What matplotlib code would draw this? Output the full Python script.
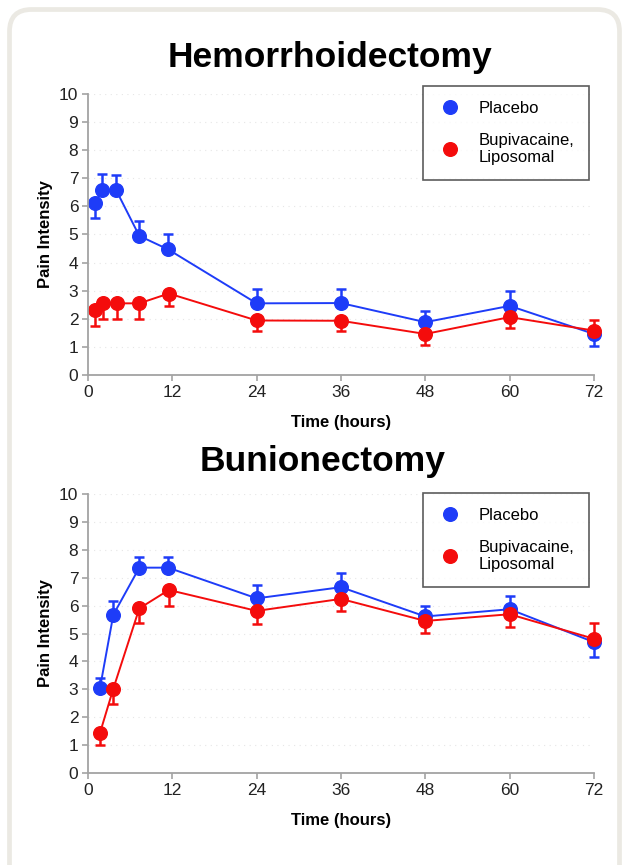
import matplotlib
matplotlib.use("Agg")
import matplotlib.pyplot as plt
from matplotlib.patches import FancyBboxPatch
from matplotlib.lines import Line2D

plt.rcParams['font.family'] = ['Liberation Sans', 'DejaVu Sans']

# --- data ---
hem_time_placebo = [1, 2, 4, 7.3, 11.4, 24, 36, 48, 60, 72]
hem_placebo = [6.11, 6.58, 6.58, 4.95, 4.47, 2.55, 2.56, 1.88, 2.46, 1.46]
hem_placebo_err = [0.51, 0.56, 0.52, 0.54, 0.55, 0.50, 0.51, 0.41, 0.52, 0.44]
hem_placebo_dir = ['lo', 'up', 'up', 'up', 'up', 'up', 'up', 'up', 'up', 'lo']

hem_time_bupi = [1, 2.2, 4.1, 7.3, 11.5, 24, 36, 48, 60, 72]
hem_bupi = [2.31, 2.57, 2.55, 2.55, 2.90, 1.94, 1.93, 1.46, 2.06, 1.58]
hem_bupi_err = [0.57, 0.59, 0.55, 0.55, 0.44, 0.37, 0.38, 0.38, 0.40, 0.36]
hem_bupi_dir = ['lo'] * 9 + ['up']

bun_time_placebo = [1.7, 3.6, 7.3, 11.4, 24, 36, 48, 60, 72]
bun_placebo = [3.04, 5.67, 7.36, 7.36, 6.26, 6.66, 5.61, 5.87, 4.69]
bun_placebo_err = [0.36, 0.48, 0.37, 0.37, 0.48, 0.52, 0.39, 0.49, 0.55]
bun_placebo_dir = ['up'] * 8 + ['lo']

bun_time_bupi = [1.7, 3.6, 7.3, 11.5, 24, 36, 48, 60, 72]
bun_bupi = [1.43, 3.02, 5.90, 6.56, 5.81, 6.24, 5.45, 5.69, 4.81]
bun_bupi_err = [0.44, 0.54, 0.53, 0.56, 0.46, 0.43, 0.44, 0.44, 0.56]
bun_bupi_dir = ['lo'] * 8 + ['up']

x_ticks = [0, 12, 24, 36, 48, 60, 72]
y_ticks = list(range(0, 11))
labels = ['Placebo', 'Bupivacaine,\nLiposomal']

BLUE = '#1e3cf8'
RED = '#f40c0c'
AXC = '#a3a3a3'

W, H = 622, 865
fig = plt.figure(figsize=(W / 100, H / 100), dpi=100)

# rounded frame around everything
frame = FancyBboxPatch((9.5, -60), 610, 865 - 9.5 + 60, boxstyle="round,pad=0,rounding_size=22",
                       transform=None, fill=False, ec='#ebe9e3', lw=3.4)
fig.patches.append(frame)


def series(ax, t, v, err, dirs, color):
    lo = [e if d == 'lo' else 0 for e, d in zip(err, dirs)]
    up = [e if d == 'up' else 0 for e, d in zip(err, dirs)]
    ax.errorbar(t, v, yerr=[lo, up], fmt='none', ecolor=color, elinewidth=1.8,
                capsize=3.5, capthick=1.8, clip_on=False)
    ax.plot(t, v, '-', color=color, lw=1.4, marker='o', ms=9.8, mec=color, mfc=color, clip_on=False)


def panel(rect, title, title_y, title_x, data, legend_box):
    ax = fig.add_axes(rect)
    for t, v, e, d, c in data:
        series(ax, t, v, e, d, c)
    ax.set_xlim(0, 72)
    ax.set_ylim(0, 10)
    ax.set_xticks(x_ticks)
    ax.set_yticks(y_ticks)
    for s in ['top', 'right']:
        ax.spines[s].set_visible(False)
    for s in ['left', 'bottom']:
        ax.spines[s].set_color(AXC)
        ax.spines[s].set_linewidth(1.3)
    ax.tick_params(colors=AXC, labelcolor='#222222', labelsize=12.5, length=4, width=1.2, pad=3)
    ax.yaxis.grid(True, ls=(0, (1, 4)), color='#e6e6e6', lw=0.8)
    ax.set_axisbelow(True)
    ax.set_xlabel('Time (hours)', fontsize=12, fontweight='bold', labelpad=11)
    ax.set_ylabel('Pain Intensity', fontsize=12, fontweight='bold', labelpad=4)
    fig.text(title_x, title_y, title, fontsize=25.5, fontweight='bold', ha='center', va='center')
    handles = [Line2D([], [], ls='none', marker='o', ms=9.8, color=BLUE),
               Line2D([], [], ls='none', marker='o', ms=9.8, color=RED)]
    leg = ax.legend(handles, labels, loc='upper right', bbox_to_anchor=legend_box,
                    bbox_transform=fig.transFigure, fontsize=12, frameon=True, fancybox=False,
                    borderpad=0.9, labelspacing=1.0, handletextpad=1.0, handlelength=1.4,
                    borderaxespad=0)
    leg.get_frame().set_edgecolor('#333333')
    leg.get_frame().set_linewidth(1.2)
    return ax


panel([88 / W, 1 - 375 / H, 506 / W, 281 / H], 'Hemorrhoidectomy', 1 - 58 / H, 330 / W,
      [(hem_time_placebo, hem_placebo, hem_placebo_err, hem_placebo_dir, BLUE),
       (hem_time_bupi, hem_bupi, hem_bupi_err, hem_bupi_dir, RED)],
      (589 / W, 1 - 86 / H))

panel([88 / W, 1 - 773 / H, 506 / W, 279 / H], 'Bunionectomy', 1 - 462 / H, 323 / W,
      [(bun_time_placebo, bun_placebo, bun_placebo_err, bun_placebo_dir, BLUE),
       (bun_time_bupi, bun_bupi, bun_bupi_err, bun_bupi_dir, RED)],
      (589 / W, 1 - 493 / H))

fig.savefig('out.png', dpi=100)
